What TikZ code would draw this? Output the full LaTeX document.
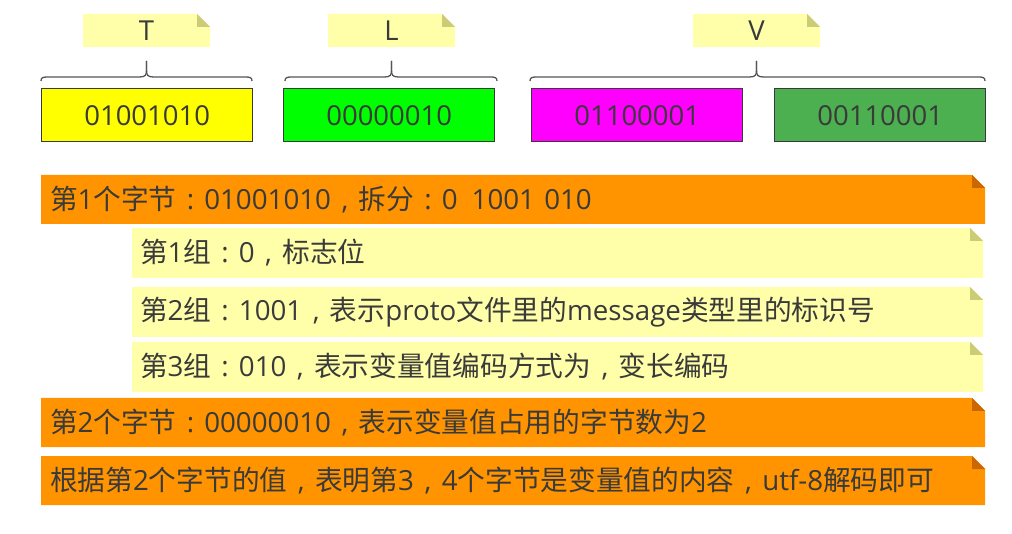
\documentclass[tikz,border=0pt]{standalone}
\usepackage{fontspec}
\setmainfont{Noto Sans CJK SC}
\newfontfamily\latf{Open Sans}
\newcommand\lt[1]{{\latf #1}}
\newcommand\Cc{\makebox[1em]{\latf :}}
\newcommand\Cm{\makebox[1em]{\latf ,}}
\usetikzlibrary{calc}
\definecolor{txt}{HTML}{3A3A3A}
\definecolor{notey}{HTML}{FFFFAA}
\definecolor{notefold}{HTML}{CCCC77}
\definecolor{orng}{HTML}{FF9400}
\definecolor{orngfold}{HTML}{CC6600}
\definecolor{bx1}{HTML}{FFFF00}
\definecolor{bx2}{HTML}{00FF00}
\definecolor{bx3}{HTML}{FF00FF}
\definecolor{bx4}{HTML}{4CAF50}
\definecolor{brc}{HTML}{555555}
\tikzset{
  notebg/.style n args={2}{inner sep=0pt, outer sep=0pt, text=txt,
    path picture={
      \fill[#1] (path picture bounding box.south west) -- (path picture bounding box.north west)
        -- ([xshift=-13pt]path picture bounding box.north east)
        -- ([yshift=-13pt]path picture bounding box.north east)
        -- (path picture bounding box.south east) -- cycle;
      \fill[#2] ([xshift=-13pt]path picture bounding box.north east)
        -- ([yshift=-13pt]path picture bounding box.north east)
        -- ([xshift=-13pt,yshift=-13pt]path picture bounding box.north east) -- cycle;
    }},
  label/.style={notebg={notey}{notefold}, anchor=north west, minimum width=127pt, minimum height=33pt, font=\latf\fontsize{27.5}{30}\selectfont},
  bytebox/.style={draw=txt, line width=1.4pt, anchor=north west, minimum width=211pt, minimum height=53pt, inner sep=0pt, text=txt, font=\latf\fontsize{27.5}{30}\selectfont},
  obar/.style={notebg={orng}{orngfold}, anchor=north west, minimum height=49pt, text width=926pt, inner xsep=9pt, align=left, font=\fontsize{27.7}{30}\selectfont},
  ybar/.style={notebg={notey}{notefold}, anchor=north west, minimum height=50pt, text width=835pt, inner xsep=8pt, align=left, font=\fontsize{27.7}{30}\selectfont},
  bracepath/.style={draw=brc, line width=1.3pt},
}
\begin{document}
\begin{tikzpicture}[x=1pt,y=-1pt]
\useasboundingbox (0,0) rectangle (1012,534);
% labels
\node[label] (T) at (83,14) {T};
\node[label] (L) at (328,14) {L};
\node[label] (V) at (693,14) {V};
% bytes
\node[bytebox, fill=bx1] (b1) at (41,88) {01001010};
\node[bytebox, fill=bx2] (b2) at (283,88) {00000010};
\node[bytebox, fill=bx3] (b3) at (531,88) {01100001};
\node[bytebox, fill=bx4] (b4) at (774,88) {00110001};
% braces
\draw[bracepath] (41,81) .. controls (41,77.5) and (43,77) .. (48,77) -- ($(T.south |- 0,77)+(-7,0)$) .. controls ($(T.south |- 0,77)+(-1,0)$) and ($(T.south |- 0,75)$) .. ($(T.south |- 0,70)$) -- ($(T.south |- 0,61)$);
\draw[bracepath] ($(T.south |- 0,61)$) -- ($(T.south |- 0,70)$) .. controls ($(T.south |- 0,75)$) and ($(T.south |- 0,77)+(1,0)$) .. ($(T.south |- 0,77)+(7,0)$) -- (245,77) .. controls (250,77) and (252,77.5) .. (252,81);
\draw[bracepath] (285,81) .. controls (285,77.5) and (287,77) .. (292,77) -- ($(L.south |- 0,77)+(-7,0)$) .. controls ($(L.south |- 0,77)+(-1,0)$) and ($(L.south |- 0,75)$) .. ($(L.south |- 0,70)$) -- ($(L.south |- 0,61)$);
\draw[bracepath] ($(L.south |- 0,61)$) -- ($(L.south |- 0,70)$) .. controls ($(L.south |- 0,75)$) and ($(L.south |- 0,77)+(1,0)$) .. ($(L.south |- 0,77)+(7,0)$) -- (490,77) .. controls (495,77) and (497,77.5) .. (497,81);
\draw[bracepath] (530,81) .. controls (530,77.5) and (532,77) .. (537,77) -- ($(V.south |- 0,77)+(-7,0)$) .. controls ($(V.south |- 0,77)+(-1,0)$) and ($(V.south |- 0,75)$) .. ($(V.south |- 0,70)$) -- ($(V.south |- 0,61)$);
\draw[bracepath] ($(V.south |- 0,61)$) -- ($(V.south |- 0,70)$) .. controls ($(V.south |- 0,75)$) and ($(V.south |- 0,77)+(1,0)$) .. ($(V.south |- 0,77)+(7,0)$) -- (978,77) .. controls (983,77) and (985,77.5) .. (985,81);
% bars
\node[obar] (r1) at (41,175) {第\lt{1}个字节\Cc\lt{01001010}\Cm 拆分\Cc\lt{0\hspace{14pt}1001 010}};
\node[ybar] (g1) at (132,228) {第\lt{1}组\Cc\lt{0}\Cm 标志位};
\node[ybar] (g2) at (132,287) {第\lt{2}组\Cc\lt{1001}\Cm 表示\lt{proto}文件里的\lt{message}类型里的标识号};
\node[ybar] (g3) at (132,342) {第\lt{3}组\Cc\lt{010}\Cm 表示变量值编码方式为\Cm 变长编码};
\node[obar] (r2) at (41,398) {第\lt{2}个字节\Cc\lt{00000010}\Cm 表示变量值占用的字节数为\lt{2}};
\node[obar] (r3) at (41,456) {根据第\lt{2}个字节的值\Cm 表明第\lt{3}\Cm\lt{4}个字节是变量值的内容\Cm\lt{utf-8}解码即可};
\end{tikzpicture}
\end{document}
